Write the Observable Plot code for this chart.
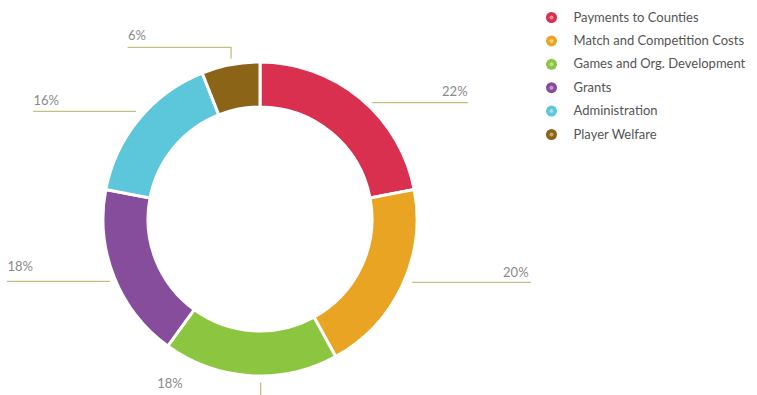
<!DOCTYPE html>
<html><head><meta charset="utf-8">
<script src="https://cdn.jsdelivr.net/npm/d3@7"></script>
<script src="https://cdn.jsdelivr.net/npm/@observablehq/plot@0.6"></script>
<style>body{margin:0;background:#fff}</style>
</head><body><div id="chart"></div>
<script>
// ---- data ----
const categories = ["Payments to Counties","Match and Competition Costs","Games and Org. Development","Grants","Administration","Player Welfare"];
const shares = [22, 20, 18, 18, 16, 6];
const shareLabels = ["22%","20%","18%","18%","16%","6%"];
const colors = ["#d9304f","#eaa423","#8cc540","#874d9d","#5cc6db","#8b6418"];

// ---- layout (not data) ----
const W = 757, H = 395, cx = 260, cy = 219, rOuter = 157, rInner = 112;
// leader path offsets relative to the outer mid-angle point of each slice
const leaderOffsets = [
  [[12,4],[107,4]],
  [[10,-4],[128,-4]],
  [[10,7],[10,30]],
  [[-5,4],[-107,4]],
  [[-4,-8],[-106,-8]],
  [[0,-7],[0,-18],[-103,-18]]
];
const labelOffsets = [[107,-7,"end"],[126,-14,"end"],[-68,8,"end"],[-107,-10,"start"],[-106,-19,"start"],[-103,-29,"start"]];

const rows = categories.map((name, i) => ({name, share: shares[i], label: shareLabels[i]}));
const pie = d3.pie().sort(null).value(d => d.share)(rows);

const leaders = [], labelsPos = [];
pie.forEach((p, i) => {
  const a = (p.startAngle + p.endAngle) / 2;
  const ax = cx + rOuter * Math.sin(a), ay = cy - rOuter * Math.cos(a);
  leaderOffsets[i].forEach(([dx, dy]) => leaders.push({name: p.data.name, x: ax + dx, y: ay + dy}));
  const [lx, ly, anchor] = labelOffsets[i];
  labelsPos.push({text: p.data.label, x: ax + lx, y: ay + ly, anchor});
});

const legendRows = categories.map((name, i) => ({name, row: i}));
const colorMap = new Map(categories.map((c, i) => [c, colors[i]]));

function donut(index, scales) {
  const color = scales && scales.color ? scales.color : (n => colorMap.get(n));
  const X = scales && scales.x ? scales.x : (v => v), Y = scales && scales.y ? scales.y : (v => v);
  const arc = d3.arc().innerRadius(rInner).outerRadius(rOuter);
  const g = d3.create("svg:g").attr("transform", `translate(${X(cx)},${Y(cy)})`);
  g.selectAll("path").data(pie).join("path")
    .attr("d", arc)
    .attr("fill", d => color(d.data.name))
    .attr("stroke", "white")
    .attr("stroke-width", 3);
  return g.node();
}

const plot = Plot.plot({
  width: W, height: H,
  margin: 0,
  x: {domain: [0, W], range: [0, W], axis: null},
  y: {domain: [0, H], range: [0, H], axis: null},
  color: {domain: categories, range: colors},
  style: {fontFamily: "Lato, 'Open Sans', sans-serif", background: "#fff"},
  marks: [
    Plot.line(leaders, {x: "x", y: "y", z: "name", stroke: "#c6c07f", strokeWidth: 1.3}),
    donut,
    Plot.text(labelsPos.filter(d => d.anchor === "end"), {x: "x", y: "y", text: "text", textAnchor: "end", fill: "#8a8a8a", fontSize: 13}),
    Plot.text(labelsPos.filter(d => d.anchor === "start"), {x: "x", y: "y", text: "text", textAnchor: "start", fill: "#8a8a8a", fontSize: 13}),
    Plot.dot(legendRows, {x: 551, y: d => 17 + d.row * 23.4, fill: "name", r: 5.5}),
    Plot.dot(legendRows, {x: 551, y: d => 17 + d.row * 23.4, fill: "white", fillOpacity: 0.45, r: 2}),
    Plot.text(legendRows, {x: 573, y: d => 17 + d.row * 23.4, text: "name", textAnchor: "start", fill: "#555", fontSize: 13})
  ]
});
document.getElementById("chart").appendChild(plot);
</script>
</body></html>
